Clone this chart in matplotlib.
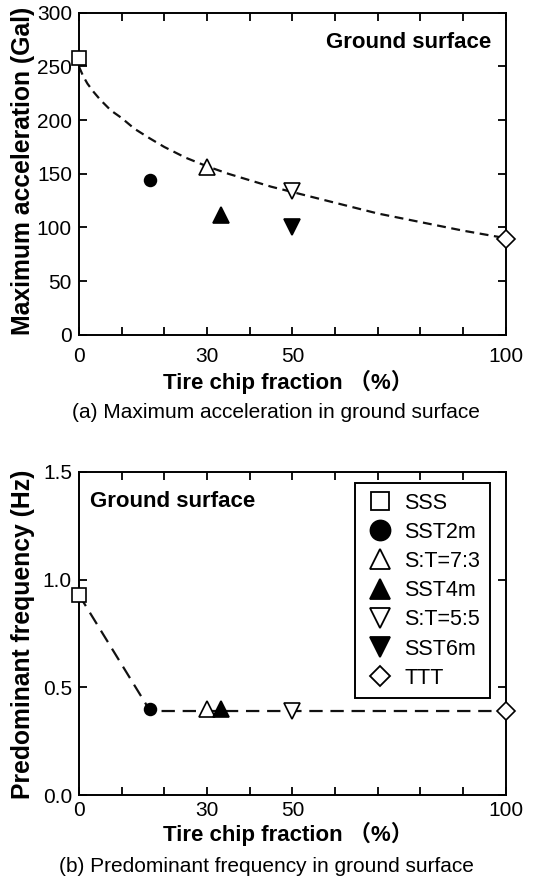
import numpy as np
import matplotlib
matplotlib.use("Agg")
import matplotlib.pyplot as plt

plt.rcParams['font.family'] = ['Liberation Sans', 'Noto Sans CJK JP', 'DejaVu Sans']

# series: tire chip fraction (%) and responses
names = ["SSS", "SST2m", "S:T=7:3", "SST4m", "S:T=5:5", "SST6m", "TTT"]
frac = [0, 16.7, 30, 33.3, 50, 50, 100]
acc = [258, 144, 156, 112, 134, 100, 89]
freq_x = [0, 16.7, 30, 33.3, 50, 100]
freq = [0.93, 0.40, 0.40, 0.40, 0.39, 0.39]
freq_names = ["SSS", "SST2m", "S:T=7:3", "SST4m", "S:T=5:5", "TTT"]

# trend line in (a)
curve_x = [0, 1, 2, 3.5, 5, 7.5, 10, 13, 16.6, 20, 25, 30, 35, 40, 45, 50, 60, 70, 80, 90, 100]
curve_y = [250, 241, 234, 226, 219, 209, 202, 192, 183, 175, 165, 157, 150, 144, 138, 133, 123, 113, 105, 97, 90]

# bottom trend line
fline_x = [0, 16.7, 100]
fline_y = [0.93, 0.39, 0.39]

styles = {
    "SSS": dict(marker='s', mfc='white', ms=10),
    "SST2m": dict(marker='o', mfc='black', ms=8.5),
    "S:T=7:3": dict(marker='^', mfc='white', ms=11.5),
    "SST4m": dict(marker='^', mfc='black', ms=11.5),
    "S:T=5:5": dict(marker='v', mfc='white', ms=11.5),
    "SST6m": dict(marker='v', mfc='black', ms=11.5),
    "TTT": dict(marker='D', mfc='white', ms=9),
}
# legend symbols are drawn larger than the plotted ones
leg_ms = {"SSS": 13, "SST2m": 14.4, "S:T=7:3": 14, "SST4m": 14, "S:T=5:5": 14,
          "SST6m": 14, "TTT": 10.2}

fig = plt.figure(figsize=(5.33, 8.81), dpi=100)
ax1 = fig.add_axes([0.148, 0.620, 0.801, 0.3655])
ax2 = fig.add_axes([0.148, 0.0976, 0.801, 0.3667])

ax1.plot(curve_x, curve_y, color='#111111', lw=1.6, ls=(0, (4, 2.5)), zorder=2)
for n, x, y in zip(names, frac, acc):
    ax1.plot([x], [y], ls='none', mec='black', mew=1.2, clip_on=False, zorder=3, **styles[n])

ax2.plot(fline_x, fline_y, color='#111111', lw=1.6, ls=(0, (6, 3.5)), zorder=2)
for n, x, y in zip(freq_names, freq_x, freq):
    ax2.plot([x], [y], ls='none', mec='black', mew=1.2, clip_on=False, zorder=3, **styles[n])

# legend with all seven cases
handles = []
for n in names:
    st = dict(styles[n])
    st['ms'] = leg_ms[n]
    handles.append(plt.Line2D([], [], ls='none', mec='black', mew=1.3, **st))
leg = ax2.legend(handles, names, loc='upper right', bbox_to_anchor=(0.963, 0.966),
                 fontsize=15.5, frameon=True, fancybox=False, edgecolor='black',
                 framealpha=1, handletextpad=0.45, labelspacing=0.38, borderpad=0.45,
                 handlelength=1.4, borderaxespad=0)
leg.get_frame().set_linewidth(1.4)

for ax in (ax1, ax2):
    ax.set_xlim(0, 100)
    ax.set_xticks(np.arange(0, 101, 10))
    ax.set_xticklabels(["0", "", "", "30", "", "50", "", "", "", "", "100"])
    ax.tick_params(direction='in', top=True, right=True, length=6, width=1.3,
                   labelsize=15)
    ax.tick_params(axis='y', pad=5)
    for s in ax.spines.values():
        s.set_linewidth(1.4)
ax1.tick_params(axis='x', pad=9)
ax2.tick_params(axis='x', pad=4)

ax1.set_ylim(0, 300)
ax1.set_yticks(np.arange(0, 301, 50))
ax2.set_ylim(0, 1.5)
ax2.set_yticks([0, 0.5, 1.0, 1.5])
ax2.set_yticklabels(["0.0", "0.5", "1.0", "1.5"])

ax1.text(0.967, 0.907, "Ground surface", transform=ax1.transAxes, ha='right', va='center',
         fontsize=16, fontweight='bold')
ax2.text(0.026, 0.907, "Ground surface", transform=ax2.transAxes, ha='left', va='center',
         fontsize=16, fontweight='bold')

fig.text(0.043, 0.806, "Maximum acceleration (Gal)", rotation=90, ha='center', va='center',
         fontsize=17.8, fontweight='bold')
fig.text(0.043, 0.280, "Predominant frequency (Hz)", rotation=90, ha='center', va='center',
         fontsize=17.8, fontweight='bold')

fig.text(0.54, 0.566, "Tire chip fraction （%）", ha='center', va='center',
         fontsize=16, fontweight='bold')
fig.text(0.54, 0.053, "Tire chip fraction （%）", ha='center', va='center',
         fontsize=16, fontweight='bold')

fig.text(0.518, 0.532, "(a) Maximum acceleration in ground surface", ha='center', va='center',
         fontsize=15)
fig.text(0.50, 0.016, "(b) Predominant frequency in ground surface", ha='center', va='center',
         fontsize=15)

fig.savefig("out.png", dpi=100)
